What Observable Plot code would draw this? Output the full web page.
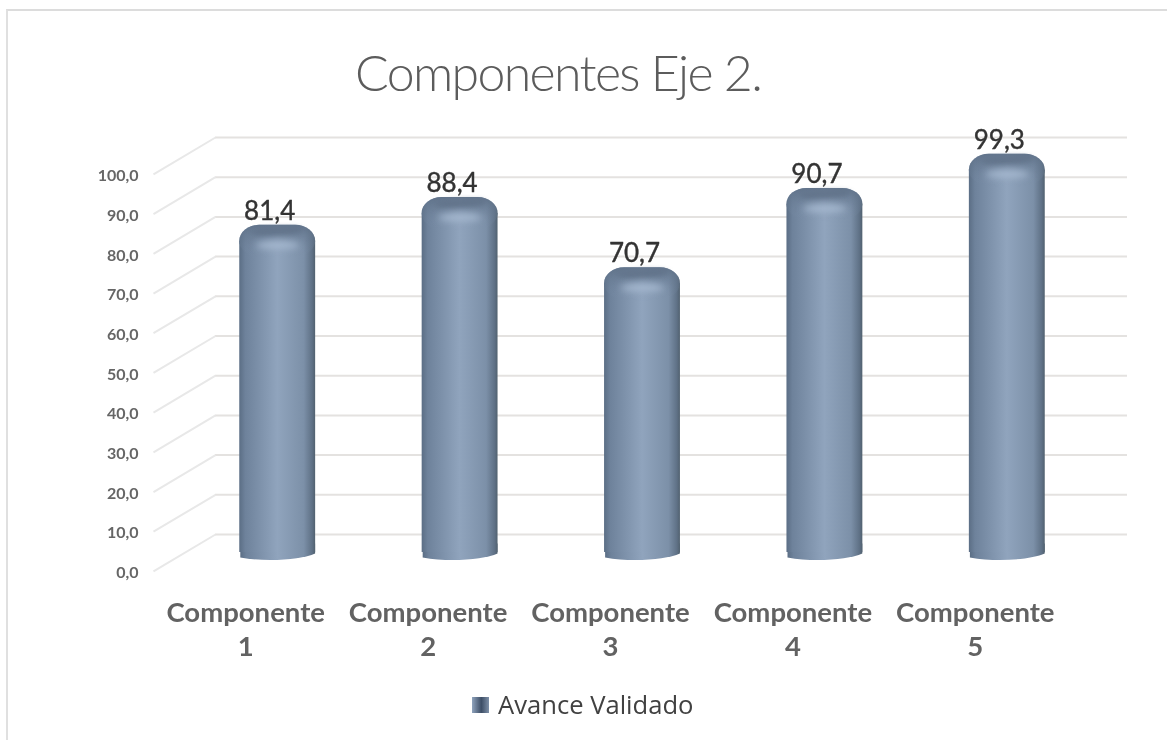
<!DOCTYPE html>
<html lang="es">
<head>
<meta charset="utf-8">
<title>Componentes Eje 2.</title>
<script src="https://cdn.jsdelivr.net/npm/d3@7"></script>
<script src="https://cdn.jsdelivr.net/npm/@observablehq/plot@0.6"></script>
<style>
  html, body { margin: 0; padding: 0; background: #fff; }
  #page { position: relative; width: 1167px; height: 740px; overflow: hidden; filter: blur(0.6px); }
  #edge { position: absolute; left: 6px; top: 9px; right: 0; bottom: 0; border-left: 2px solid #e0e0e0; border-top: 2px solid #dcdcdc; }
  #title { position: relative; height: 105px; box-sizing: border-box; padding-top: 39px; padding-left: 355px; font: 300 50px/66px Lato, sans-serif; letter-spacing: -1.65px; color: #5c5c5c; white-space: nowrap; }
  #chart { position: relative; height: 580px; }
  #chart svg { display: block; background: transparent; }
  #legend { position: relative; display: flex; align-items: center; padding-left: 472px; height: 40px; font: 400 25.6px/40px "Open Sans", sans-serif; color: #414141; }
  #swatch { width: 17px; height: 16px; margin-right: 9px; background: linear-gradient(90deg, #8fa3bd, #3d4e66 55%, #7e90a8); }
</style>
</head>
<body>
<div id="page">
  <div id="edge"></div>
  <div id="title">Componentes Eje 2.</div>
  <div id="chart"></div>
  <div id="legend"><span id="swatch"></span><span>Avance Validado</span></div>
</div>
<script>
const categories = ["Componente\n1", "Componente\n2", "Componente\n3", "Componente\n4", "Componente\n5"];
const values = [81.4, 88.4, 70.7, 90.7, 99.3];
const valueLabels = ["81,4", "88,4", "70,7", "90,7", "99,3"];
const yTicks = [0, 10, 20, 30, 40, 50, 60, 70, 80, 90, 100];

const rows = values.map((v, i) => ({i, v, label: valueLabels[i]}));
const slots = categories.map((_, i) => i + 0.5);

const halfWidth = 0.208;    // half a cylinder, in category slots
const wallDepth = -0.34;    // side wall runs forward by this many slots
const wallDrop = 9.3;       // and drops this many value units
const barShift = -29;
const capDrop = 14;

// Hand-drawn shapes for the cylinder top and base, given to Plot as dot symbols
function ellipse(rx, ry, tilt) {
  const k = 0.5523, c = Math.cos(tilt), s = Math.sin(tilt);
  const p = (x, y) => [x * c - y * s, x * s + y * c];
  return {draw(ctx) {
    ctx.moveTo(...p(rx, 0));
    ctx.bezierCurveTo(...p(rx, k * ry), ...p(k * rx, ry), ...p(0, ry));
    ctx.bezierCurveTo(...p(-k * rx, ry), ...p(-rx, k * ry), ...p(-rx, 0));
    ctx.bezierCurveTo(...p(-rx, -k * ry), ...p(-k * rx, -ry), ...p(0, -ry));
    ctx.bezierCurveTo(...p(k * rx, -ry), ...p(rx, -k * ry), ...p(rx, 0));
    ctx.closePath();
  }};
}
const baseSymbol = {draw(ctx) {
  ctx.moveTo(-37.4, -12);
  ctx.lineTo(37.4, -12);
  ctx.lineTo(37.4, -2);
  ctx.bezierCurveTo(24, 4, -10, 7, -37.4, 2);
  ctx.closePath();
}};

function defs() {
  const d = d3.create("svg:defs");
  const side = d.append("linearGradient").attr("id", "cyl");
  [[0, "#5b6e85"], [0.08, "#6e829b"], [0.5, "#90a4bd"], [0.85, "#7c90a8"], [0.96, "#5f7186"], [1, "#51616f"]]
    .forEach(([o, c]) => side.append("stop").attr("offset", o).attr("stop-color", c));
  const cap = d.append("linearGradient").attr("id", "capShade").attr("x2", 0).attr("y2", 1);
  [[0, "#5d6f86", 0.85], [0.5, "#6a7d95", 0.4], [1, "#7f93ad", 0]]
    .forEach(([o, c, a]) => cap.append("stop").attr("offset", o).attr("stop-color", c).attr("stop-opacity", a));
  return d.node();
}

const plot = Plot.plot({
  width: 1167,
  height: 580,
  marginTop: 32,
  marginBottom: 151,
  marginLeft: 215,
  marginRight: 40,
  style: {background: "transparent", fontFamily: "Lato, sans-serif"},
  x: {domain: [0, categories.length]},
  y: {domain: [0, 100]},
  marks: [
    defs,
    Plot.ruleY(yTicks, {x1: () => 0, x2: () => categories.length, y: d => d, stroke: "#e4e2e0", strokeWidth: 2}),
    Plot.link(yTicks, {x1: () => 0, x2: () => wallDepth, y1: d => d, y2: d => d - wallDrop, stroke: "#e8e8e8", strokeWidth: 2}),
    Plot.axisY({ticks: yTicks, tickSize: 0, tickPadding: 77, dy: 38.5, label: null, fontSize: 16, fontWeight: 700, fill: "#666",
      tickFormat: d => d.toFixed(1).replace(".", ",")}),
    Plot.axisX({ticks: slots, tickSize: 0, tickPadding: 63, dx: -61, label: null, fontSize: 27.5, fontWeight: 700, fill: "#626262", lineHeight: 1.24,
      tickFormat: d => categories[d - 0.5]}),

    // base
    Plot.dot(rows, {x: d => d.i + 0.5, y: () => 0, dx: barShift, dy: 21, r: 38, symbol: baseSymbol, fill: "url(#cyl)", stroke: "none"}),
    // rounded shoulder
    Plot.rect(rows, {x1: d => d.i + 0.5 - halfWidth, x2: d => d.i + 0.5 + halfWidth, y1: d => d.v - 8, y2: d => d.v, dx: barShift, dy: capDrop, rx: 20, ry: 16, fill: "url(#cyl)"}),
    // cylinder wall
    Plot.rect(rows, {x1: d => d.i + 0.5 - halfWidth, x2: d => d.i + 0.5 + halfWidth, y1: () => 0, y2: d => d.v - 3, dx: barShift, dy: capDrop + 4, fill: "url(#cyl)"}),
    Plot.rect(rows, {x1: d => d.i + 0.5 - halfWidth, x2: d => d.i + 0.5 + halfWidth, y1: d => d.v - 8, y2: d => d.v, dx: barShift, dy: capDrop, rx: 20, ry: 16, fill: "url(#capShade)"}),
    // top surface and highlight
    Plot.dot(rows, {x: d => d.i + 0.5, y: d => d.v, dx: barShift, dy: capDrop + 6, r: 26, symbol: ellipse(26, 4, -0.05), fill: "#5c6e85", stroke: "none", fillOpacity: 0.7, imageFilter: "blur(2.5px)"}),
    Plot.dot(rows, {x: d => d.i + 0.5, y: d => d.v, dx: barShift, dy: capDrop + 20, r: 22, symbol: ellipse(22, 4, 0), fill: "#aabdd4", stroke: "none", fillOpacity: 0.9, imageFilter: "blur(3.5px)"}),

    Plot.text(rows, {x: d => d.i + 0.5, y: d => d.v, text: d => d.label, dx: barShift - 8, fontSize: 26, fill: "#333", stroke: "#333", strokeWidth: 0.4})
  ]
});
document.getElementById("chart").append(plot);
</script>
</body>
</html>
